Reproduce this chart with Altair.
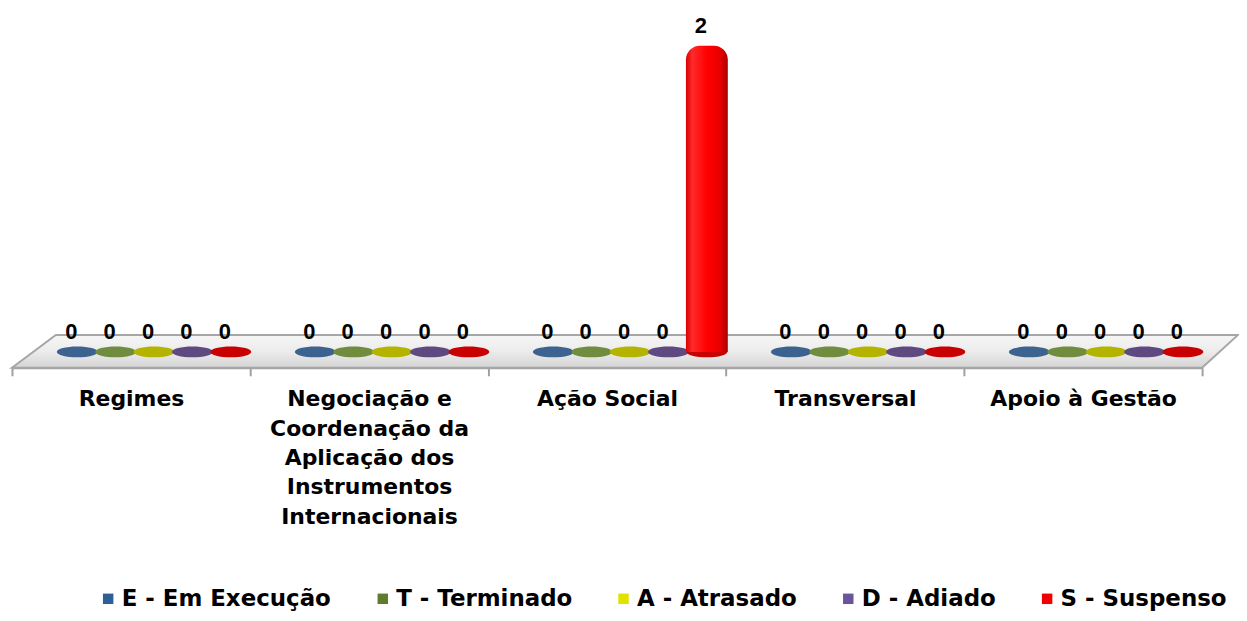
import json
import altair as alt
import pandas as pd

# ---- data ----
categories = [
    "Regimes",
    "Negociação e Coordenação da Aplicação dos Instrumentos Internacionais",
    "Ação Social",
    "Transversal",
    "Apoio à Gestão",
]
category_lines = [
    ["Regimes"],
    ["Negociação e", "Coordenação da", "Aplicação dos", "Instrumentos", "Internacionais"],
    ["Ação Social"],
    ["Transversal"],
    ["Apoio à Gestão"],
]
series = ["E - Em Execução", "T - Terminado", "A - Atrasado", "D - Adiado", "S - Suspenso"]
values_E = [0, 0, 0, 0, 0]
values_T = [0, 0, 0, 0, 0]
values_A = [0, 0, 0, 0, 0]
values_D = [0, 0, 0, 0, 0]
values_S = [0, 0, 2, 0, 0]

legend_colors = ["#2F5F98", "#5E7D2C", "#E2E200", "#6A559A", "#F00000"]
base_colors = ["#3C6290", "#708C3E", "#B4B400", "#5E4A80", "#C80000"]

# ---- build table ----
all_values = [values_E, values_T, values_A, values_D, values_S]
rows = []
for s_i, s in enumerate(series):
    for c_i, c in enumerate(categories):
        rows.append({
            "category": c,
            "series": s,
            "value": all_values[s_i][c_i],
            "base": 0,
            "ecolor": base_colors[s_i],
        })
df = pd.DataFrame(rows)
floor_df = pd.DataFrame({"floor": [0]})

W, H = 1194, 360
yscale = alt.Scale(domain=[-0.104, 2.241], nice=False, zero=False)
xscale = alt.Scale(type="band", paddingInner=0, paddingOuter=0)
offscale = alt.Scale(type="band", domain=series, paddingInner=0, paddingOuter=0.6, align=1)

label_expr = " : ".join(
    f"datum.value == {json.dumps(c, ensure_ascii=False)} ? {json.dumps(l, ensure_ascii=False)}"
    for c, l in zip(categories, category_lines)
) + " : datum.label"

x_enc = alt.X(
    "category:N", sort=categories, scale=xscale, title=None,
    axis=alt.Axis(
        labelAngle=0, labelFont="DejaVu Sans", labelFontWeight="bold", labelFontSize=22,
        labelColor="#000000", labelLimit=400, labelLineHeight=29.5, labelPadding=13,
        labelOverlap=False, labelExpr=label_expr,
        domainColor="#A0A0A0", domainWidth=2, tickColor="#A0A0A0", tickWidth=2,
        tickSize=8, tickBand="extent", grid=False,
    ),
)
xo_enc = alt.XOffset("series:N", sort=series, scale=offscale)

# ---- 3D floor (decoration) ----
fx0, fx1, fdepth = 0.0, float(W), 36.0
fy_front, fy_back = 360.0, 327.0
right = fx1 + fdepth
cx, cy = right / 2, (fy_front + fy_back) / 2
half = right / 2
def u(v, c):
    return round((v - c) / half, 5)
floor_path = (
    f"M{u(fx0, cx)},{u(fy_front, cy)}L{u(fx1, cx)},{u(fy_front, cy)}"
    f"L{u(right, cx)},{u(fy_back, cy)}L{u(fx0 + 44, cx)},{u(fy_back, cy)}Z"
)
floor_grad = alt.LinearGradient(
    gradient="linear", x1=0, x2=0, y1=0, y2=1,
    stops=[
        alt.GradientStop(color="#F6F6F6", offset=0),
        alt.GradientStop(color="#ECECEC", offset=0.5),
        alt.GradientStop(color="#D4D4D4", offset=1),
    ],
)
floor = alt.Chart(floor_df).mark_point(
    shape=floor_path, filled=True, fill=floor_grad, stroke="#A6A6A6",
    strokeWidth=2, opacity=1, size=right * right,
).encode(x=alt.value(cx), y=alt.value(cy))

# ---- ellipses at the base of every column ----
ellipse_path = "M-1,0A1,0.26,0,1,0,1,0A1,0.26,0,1,0,-1,0Z"
ellipses = alt.Chart(df).mark_point(
    shape=ellipse_path, filled=True, opacity=1, size=41 * 41, strokeWidth=0,
).encode(
    x=x_enc, xOffset=xo_enc,
    y=alt.Y("base:Q", scale=yscale, axis=None),
    fill=alt.Fill("ecolor:N", scale=None),
)

# ---- cylinder bars ----
bar_grad = alt.LinearGradient(
    gradient="linear", x1=0, x2=1, y1=0, y2=0,
    stops=[
        alt.GradientStop(color="#D80000", offset=0),
        alt.GradientStop(color="#FF2A2A", offset=0.15),
        alt.GradientStop(color="#FF0000", offset=0.5),
        alt.GradientStop(color="#E80000", offset=0.82),
        alt.GradientStop(color="#A80000", offset=1),
    ],
)
bars = alt.Chart(df).transform_filter("datum.value > 0").mark_bar(
    width=42, fill=bar_grad, cornerRadiusTopLeft=14, cornerRadiusTopRight=14,
).encode(
    x=x_enc, xOffset=xo_enc,
    y=alt.Y("value:Q", scale=yscale, axis=None),
    y2=alt.Y2("base:Q"),
)

# ---- value labels ----
labels = alt.Chart(df).mark_text(
    font="Liberation Sans", fontWeight="bold", fontSize=22, color="#000000",
    baseline="alphabetic", dy=-13, dx=-6,
).encode(
    x=x_enc, xOffset=xo_enc,
    y=alt.Y("value:Q", scale=yscale, axis=None),
    text=alt.Text("value:Q"),
)

# ---- legend carrier (invisible marks) ----
legend_layer = alt.Chart(df).mark_square(opacity=0).encode(
    x=x_enc, xOffset=xo_enc,
    y=alt.Y("base:Q", scale=yscale, axis=None),
    color=alt.Color(
        "series:N", sort=series,
        scale=alt.Scale(domain=series, range=legend_colors),
        legend=alt.Legend(
            title=None, orient="none", legendX=85, legendY=580,
            direction="horizontal", columns=5, symbolType="square",
            symbolSize=110, symbolStrokeWidth=0, symbolOpacity=1,
            labelFont="DejaVu Sans", labelFontWeight="bold", labelFontSize=23,
            labelColor="#000000", labelOffset=2, columnPadding=39.5,
            labelLimit=400, padding=0,
        ),
    ),
)

chart = alt.layer(floor, ellipses, bars, labels, legend_layer).properties(
    width=W, height=H,
    autosize=alt.AutoSizeParams(type="none"),
    padding={"left": 4, "top": 0, "right": 37, "bottom": 245},
    background="#FFFFFF",
).configure_view(stroke=None)

chart.save("out.html", embed_options={"renderer": "svg", "actions": False})
